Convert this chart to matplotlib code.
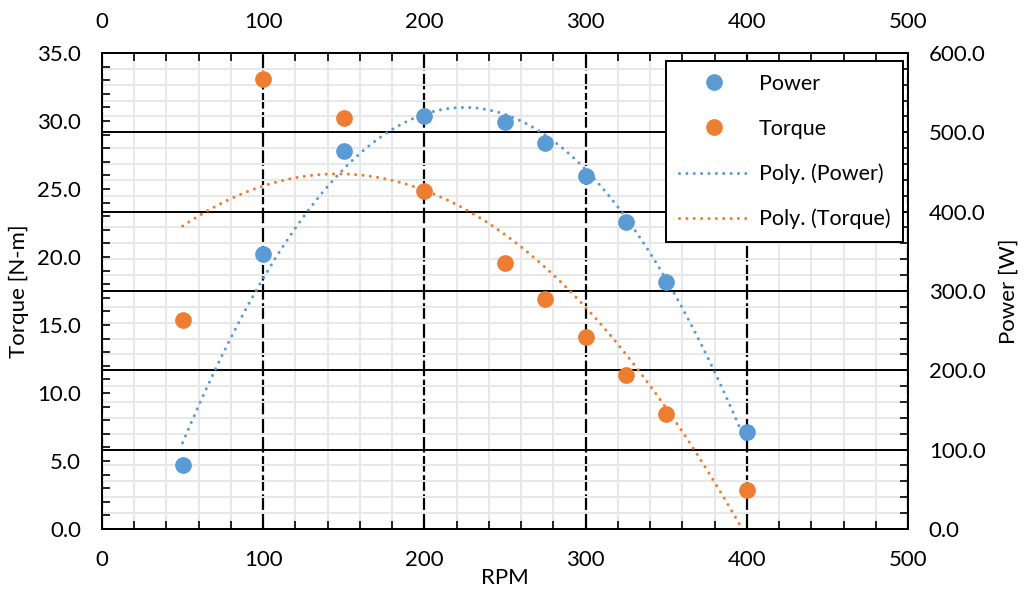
import numpy as np
import matplotlib
matplotlib.use("Agg")
import matplotlib.pyplot as plt
from matplotlib.ticker import MultipleLocator, FormatStrFormatter

plt.rcParams['font.family'] = ['Lato', 'DejaVu Sans']
plt.rcParams['font.size'] = 16

# RPM readings
rpm = [50, 100, 150, 200, 250, 275, 300, 325, 350, 400]
# torque [N-m] (left axis)
torque = [15.35, 33.05, 30.25, 24.85, 19.55, 16.9, 14.15, 11.35, 8.45, 2.9]
# power [W] (right axis)
power = [80, 346, 476, 520, 513, 487, 445, 387, 311, 122]

blue = "#5B9BD5"
orange = "#ED7D31"

fig = plt.figure(figsize=(10.24, 5.93), dpi=100)
ax1 = fig.add_axes([0.0996, 0.108, 0.7871, 0.8027])
ax2 = ax1.twinx()
ax1.set_zorder(ax2.get_zorder() + 1)
ax1.patch.set_visible(False)

# grids live on the power axes, underneath torque points
ax2.xaxis.set_visible(True)
ax2.tick_params(axis="x", which="both", bottom=False, top=False, labelbottom=False, labeltop=False)
ax2.xaxis.set_major_locator(MultipleLocator(100))
ax2.xaxis.set_minor_locator(MultipleLocator(20))
ax2.yaxis.set_minor_locator(MultipleLocator(20))
ax2.grid(which="minor", color="#e8e8e8", lw=1.4, zorder=0)
ax2.grid(which="major", axis="y", color="black", lw=1.4, zorder=1)
ax2.grid(which="major", axis="x", color="black", lw=1.6, ls=(0, (7, 1.6)), zorder=1)
ax2.set_axisbelow(True)

# second order trendlines (same as Excel poly trendline)
xs = np.linspace(min(rpm), max(rpm), 300)
cp = np.polyfit(rpm, power, 2)
ct = np.polyfit(rpm, torque, 2)
fit_p = np.polyval(cp, xs)
fit_t = np.polyval(ct, xs)
keep = fit_t >= 0

dots = (0, (0.01, 2.4))
lp, = ax2.plot(xs, fit_p, color=blue, lw=2.2, ls=dots, dash_capstyle="round", zorder=3)
sp, = ax2.plot(rpm, power, "o", color=blue, ms=11, zorder=4)
lt, = ax1.plot(xs[keep], fit_t[keep], color=orange, lw=2.2, ls=dots, dash_capstyle="round", zorder=3)
st, = ax1.plot(rpm, torque, "o", color=orange, ms=11, zorder=4)

ax1.set_xlim(0, 500)
ax1.set_ylim(0, 35)
ax2.set_ylim(0, 600)
ax1.xaxis.set_major_locator(MultipleLocator(100))
ax1.xaxis.set_minor_locator(MultipleLocator(20))
ax1.yaxis.set_major_locator(MultipleLocator(5))
ax1.yaxis.set_minor_locator(MultipleLocator(1))
ax2.yaxis.set_major_locator(MultipleLocator(100))
ax1.yaxis.set_major_formatter(FormatStrFormatter("%.1f"))
ax2.yaxis.set_major_formatter(FormatStrFormatter("%.1f"))

top = ax1.secondary_xaxis("top")
top.xaxis.set_major_locator(MultipleLocator(100))
top.xaxis.set_minor_locator(MultipleLocator(20))

for a in (ax1, ax2, top):
    a.tick_params(which="both", direction="in", length=6, width=1.2, pad=15, colors="black")
for a in (ax1, ax2):
    for s in a.spines.values():
        s.set_linewidth(1.4)
        s.set_color("black")
top.spines["top"].set_linewidth(1.4)

ax1.set_xlabel("RPM", labelpad=-1)
ax1.set_ylabel("Torque [N-m]", labelpad=6)
ax2.set_ylabel("Power [W]", labelpad=9)

leg = ax1.legend([sp, st, lp, lt], ["Power", "Torque", "Poly. (Power)", "Poly. (Torque)"],
                 loc="upper right", bbox_to_anchor=(0.994, 0.983), borderaxespad=0,
                 fancybox=False, framealpha=1, edgecolor="black", handlelength=3.3,
                 handletextpad=0.4, labelspacing=1.15, borderpad=0.6, fontsize=15.5)
leg.get_frame().set_linewidth(1.4)

fig.savefig("out.png", dpi=100)
